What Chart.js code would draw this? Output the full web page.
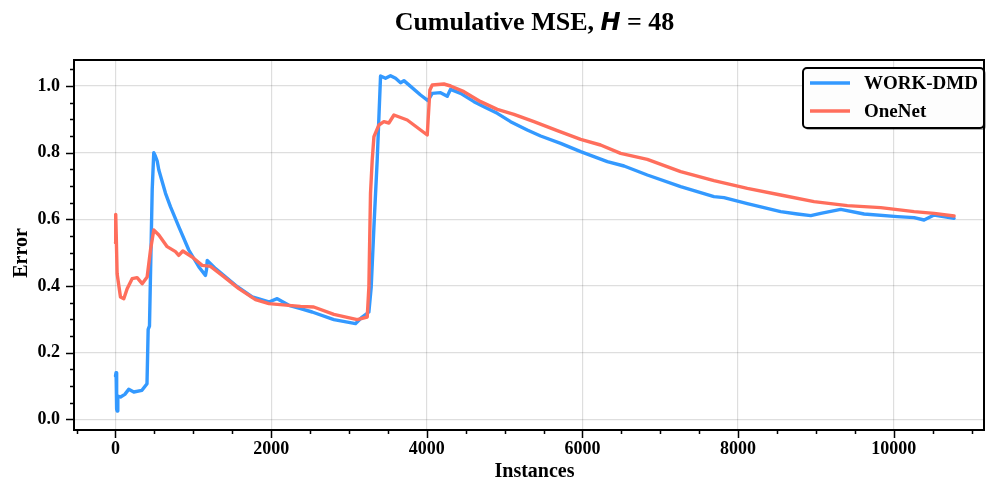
<!DOCTYPE html>
<html>
<head>
<meta charset="utf-8">
<script src="https://cdn.jsdelivr.net/npm/chart.js@4.4.1/dist/chart.umd.min.js"></script>
<style>
    html, body { margin: 0; padding: 0; background: #fff; }
</style>
</head>
<body>
<canvas id="mse" width="986" height="483"></canvas>
<script>
// WORK-DMD cumulative error
const workX = [0, 8, 15, 22, 30, 65, 120, 170, 235, 340, 405, 420, 437, 472, 492, 512, 536, 557,
    643, 706, 813, 942, 1072, 1156, 1170, 1179, 1286, 1543, 1757, 1971, 2078, 2228, 2378, 2527,
    2806, 3085, 3170, 3256, 3286, 3321, 3363, 3406, 3470, 3534, 3599, 3663, 3706, 3792, 3920,
    4015, 4070, 4177, 4263, 4306, 4435, 4606, 4734, 4906, 5077, 5291, 5463, 5720, 5977, 6148,
    6320, 6535, 6834, 7262, 7690, 7819, 8119, 8547, 8762, 8934, 9062, 9319, 9619, 10048, 10262,
    10390, 10519, 10776];
const workY = [0.13, 0.14, 0.03, 0.025, 0.07, 0.067, 0.075, 0.09, 0.082, 0.087, 0.107, 0.27, 0.28,
    0.69, 0.80, 0.79, 0.775, 0.748, 0.678, 0.638, 0.578, 0.508, 0.457, 0.432, 0.45, 0.477, 0.452,
    0.402, 0.367, 0.352, 0.362, 0.342, 0.332, 0.322, 0.299, 0.287, 0.307, 0.322, 0.397, 0.578,
    0.778, 1.030, 1.023, 1.031, 1.023, 1.010, 1.016, 0.999, 0.973, 0.956, 0.978, 0.980, 0.969,
    0.990, 0.978, 0.953, 0.938, 0.918, 0.893, 0.868, 0.850, 0.828, 0.803, 0.788, 0.773, 0.760,
    0.733, 0.698, 0.668, 0.665, 0.647, 0.623, 0.616, 0.611, 0.618, 0.630, 0.616, 0.608, 0.605,
    0.598, 0.613, 0.603];

// OneNet cumulative error
const oneX = [0, 3, 10, 21, 64, 107, 150, 214, 278, 343, 407, 450, 492, 557, 664, 771, 813, 865,
    985, 1114, 1221, 1371, 1585, 1799, 1971, 2228, 2378, 2548, 2806, 3107, 3235, 3256, 3277, 3299,
    3321, 3385, 3449, 3513, 3578, 3749, 4006, 4040, 4070, 4220, 4306, 4477, 4692, 4906, 5120,
    5377, 5677, 5977, 6233, 6491, 6834, 7262, 7690, 8119, 8547, 8976, 9404, 9833, 10262, 10519,
    10776];
const oneY = [0.53, 0.615, 0.55, 0.437, 0.367, 0.362, 0.392, 0.422, 0.425, 0.407, 0.427, 0.508,
    0.568, 0.553, 0.518, 0.503, 0.492, 0.505, 0.487, 0.462, 0.459, 0.432, 0.392, 0.359, 0.347,
    0.342, 0.339, 0.337, 0.315, 0.299, 0.307, 0.397, 0.678, 0.778, 0.848, 0.883, 0.893, 0.889,
    0.913, 0.898, 0.853, 0.988, 1.003, 1.006, 1.000, 0.983, 0.953, 0.930, 0.915, 0.893, 0.866,
    0.840, 0.823, 0.798, 0.780, 0.743, 0.716, 0.693, 0.673, 0.653, 0.641, 0.635, 0.623, 0.618,
    0.610];

const seriesNames = ["WORK-DMD", "OneNet"];
const xMajorTicks = [0, 2000, 4000, 6000, 8000, 10000];
const yMajorTicks = [0, 0.2, 0.4, 0.6, 0.8, 1.0];
const xMinorStep = 500;
const yMinorStep = 0.05;

const BLUE = "#3399ff";
const RED = "#ff6e5c";
const SERIF = '"Liberation Serif", "Times New Roman", serif';

const toPoints = (xs, ys) => xs.map((x, i) => ({ x: x, y: ys[i] }));

// box round the axes + outward major/minor ticks (matplotlib look)
const axisFrame = {
    id: "axisFrame",
    afterDraw(chart) {
        const {
            ctx,
            chartArea: { left, right, top, bottom },
            scales: { x, y },
        } = chart;

        ctx.save();
        ctx.strokeStyle = "#000";
        ctx.lineWidth = 1.5;
        ctx.beginPath();
        for (let k = Math.ceil(x.min / xMinorStep); k * xMinorStep <= x.max; k++) {
            const v = k * xMinorStep;
            const px = Math.round(x.getPixelForValue(v)) + 0.5;
            const len = xMajorTicks.includes(v) ? 8 : 4;
            ctx.moveTo(px, bottom);
            ctx.lineTo(px, bottom + len);
        }
        for (let k = Math.ceil(y.min / yMinorStep); k * yMinorStep <= y.max; k++) {
            const py = Math.round(y.getPixelForValue(k * yMinorStep)) + 0.5;
            const len = k % 4 === 0 ? 8 : 4;
            ctx.moveTo(left, py);
            ctx.lineTo(left - len, py);
        }
        ctx.stroke();

        ctx.lineWidth = 2;
        ctx.strokeRect(left, top, right - left, bottom - top);
        ctx.restore();
    },
};

// title with the bold-italic math H, axis titles, legend
const labels = {
    id: "labels",
    afterDraw(chart) {
        const { ctx } = chart;
        ctx.save();
        ctx.fillStyle = "#000";
        ctx.textBaseline = "alphabetic";

        // Title
        const parts = [
            ["Cumulative MSE, ", `bold 26px ${SERIF}`],
            ["H", `italic bold 24px "DejaVu Sans"`],
            [" = 48", `bold 26px ${SERIF}`],
        ];
        let total = 0;
        parts.forEach((p) => {
            ctx.font = p[1];
            total += ctx.measureText(p[0]).width;
        });
        let tx = 534.5 - total / 2;
        ctx.textAlign = "left";
        parts.forEach((p) => {
            ctx.font = p[1];
            ctx.fillText(p[0], tx, 30);
            tx += ctx.measureText(p[0]).width;
        });

        // Axis titles
        ctx.font = `bold 20px ${SERIF}`;
        ctx.textAlign = "center";
        ctx.fillText("Instances", 534.5, 477);
        ctx.translate(27, 253);
        ctx.rotate(-Math.PI / 2);
        ctx.fillText("Error", 0, 0);
        ctx.setTransform(1, 0, 0, 1, 0, 0);

        // Legend
        const bx = 803, by = 68, bw = 181, bh = 60;
        ctx.fillStyle = "rgba(0,0,0,0.3)";
        ctx.beginPath();
        ctx.roundRect(bx + 2, by + 2, bw, bh, 4);
        ctx.fill();
        ctx.fillStyle = "#fdfdfd";
        ctx.strokeStyle = "#000";
        ctx.lineWidth = 2;
        ctx.beginPath();
        ctx.roundRect(bx, by, bw, bh, 4);
        ctx.fill();
        ctx.stroke();

        ctx.font = `bold 19px ${SERIF}`;
        ctx.textAlign = "left";
        ctx.textBaseline = "middle";
        chart.data.datasets.forEach((ds, i) => {
            const ly = by + 15 + i * 28;
            ctx.strokeStyle = ds.borderColor;
            ctx.lineWidth = 3.3;
            ctx.beginPath();
            ctx.moveTo(810, ly);
            ctx.lineTo(850, ly);
            ctx.stroke();
            ctx.fillStyle = "#000";
            ctx.fillText(ds.label, 864, ly + 1);
        });
        ctx.restore();
    },
};

new Chart(document.getElementById("mse"), {
    type: "line",
    data: {
        datasets: [
            {
                label: seriesNames[0],
                data: toPoints(workX, workY),
                borderColor: BLUE,
                order: 1,
            },
            {
                label: seriesNames[1],
                data: toPoints(oneX, oneY),
                borderColor: RED,
                order: 0,
            },
        ],
    },
    options: {
        responsive: false,
        animation: false,
        devicePixelRatio: 1,
        layout: { padding: { top: 60, right: 2, left: 0, bottom: 0 } },
        elements: {
            point: { radius: 0 },
            line: {
                borderWidth: 3.4,
                tension: 0,
                borderJoinStyle: "round",
                borderCapStyle: "round",
            },
        },
        plugins: {
            legend: { display: false },
            tooltip: { enabled: false },
        },
        scales: {
            x: {
                type: "linear",
                min: -533,
                max: 11160,
                afterBuildTicks: (s) => {
                    s.ticks = xMajorTicks.map((v) => ({ value: v }));
                },
                afterFit: (s) => {
                    s.height = 53;
                },
                grid: { color: "rgba(0,0,0,0.13)", lineWidth: 1.2, drawTicks: false },
                border: { display: false },
                ticks: {
                    padding: 9,
                    color: "#000",
                    maxRotation: 0,
                    autoSkip: false,
                    font: { family: SERIF, size: 18, weight: "bold" },
                    callback: (v) => String(v),
                },
            },
            y: {
                type: "linear",
                min: -0.032,
                max: 1.078,
                afterBuildTicks: (s) => {
                    s.ticks = yMajorTicks.map((v) => ({ value: v }));
                },
                afterFit: (s) => {
                    s.width = 74;
                },
                grid: { color: "rgba(0,0,0,0.13)", lineWidth: 1.2, drawTicks: false },
                border: { display: false },
                ticks: {
                    padding: 14,
                    color: "#000",
                    font: { family: SERIF, size: 18, weight: "bold" },
                    callback: (v) => v.toFixed(1),
                },
            },
        },
    },
    plugins: [axisFrame, labels],
});
</script>
</body>
</html>
